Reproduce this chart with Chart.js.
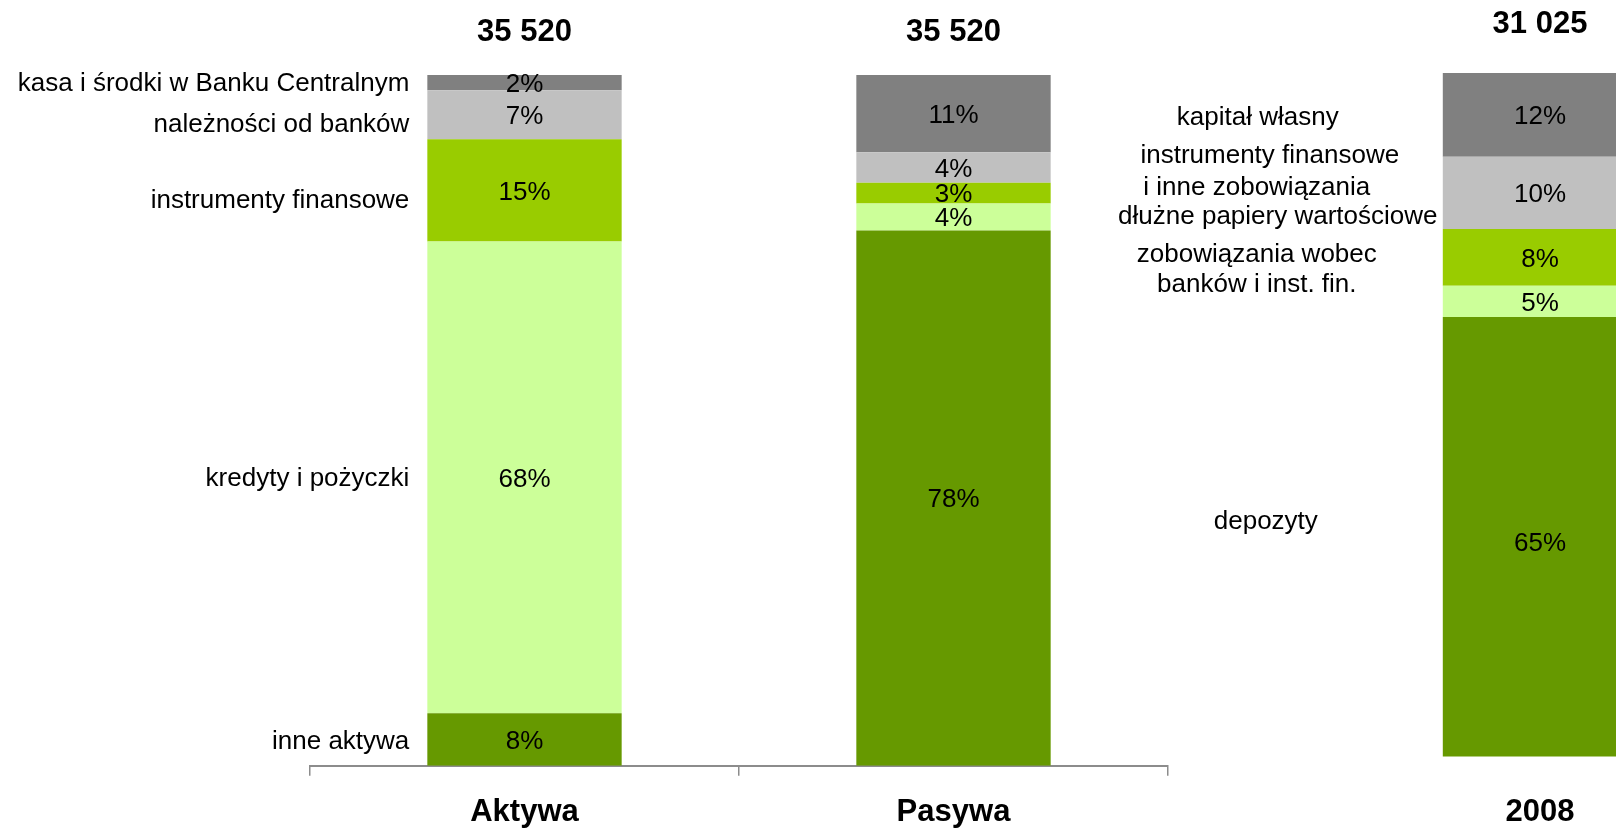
<!DOCTYPE html>
<html lang="pl">
<head>
  <meta charset="UTF-8" />
  <title>Struktura bilansu</title>
  <script src="https://cdn.jsdelivr.net/npm/chart.js"></script>
  <style>
    html, body {
      margin: 0;
      overflow: hidden;
      background: #ffffff;
    }
    body {
      position: relative;
      width: 1616px;
      height: 829px;
    }
    .box {
      position: absolute;
      left: 0;
      top: 0;
      height: 872px;
    }
    #main { width: 1616px; }
    #side { width: 1800px; }
  </style>
</head>
<body>
  <div class="box" id="main"><canvas id="balanceChart"></canvas></div>
  <div class="box" id="side"><canvas id="yearChart"></canvas></div>

  <script>
    // left chart: Aktywa / Pasywa, shares in % (bottom of stack first)
    const categories = ['Aktywa', 'Pasywa'];
    const totals = ['35 520', '35 520'];
    const tierBase = [7.6, 77.5];    // inne aktywa / depozyty
    const tierLight = [68.3, 3.9];   // kredyty i pożyczki / zobowiązania wobec banków
    const tierGreen = [14.8, 3.0];   // instrumenty finansowe / dłużne papiery
    const tierGrey = [7.1, 4.4];     // należności od banków / instrumenty fin. i inne zob.
    const tierTop = [2.2, 11.2];     // kasa i środki w BC / kapitał własny
    const assetNames = ['inne aktywa', 'kredyty i pożyczki', 'instrumenty finansowe',
                        'należności od banków', 'kasa i środki w Banku Centralnym'];

    // right chart: 2008 (bottom of stack first)
    const yearLabel = ['2008'];
    const yearTotal = ['31 025'];
    const year2008 = [64.8, 4.5, 8.2, 10.4, 12.1];

    const colors = ['#669900', '#CCFF99', '#99CC00', '#C0C0C0', '#808080'];
    const FONT = '"Liberation Sans", Arial, sans-serif';
    Chart.defaults.font.family = FONT;
    Chart.defaults.color = '#000';

    // percent labels, totals on top and the names beside the bars
    const segLabels = {
      id: 'segLabels',
      afterDatasetsDraw(chart, args, opts) {
        const ctx = chart.ctx;
        const sets = chart.data.datasets;
        ctx.save();
        ctx.fillStyle = '#000';
        ctx.textAlign = 'center';
        ctx.textBaseline = 'middle';
        ctx.font = '26px ' + FONT;
        sets.forEach((ds, i) => {
          chart.getDatasetMeta(i).data.forEach((bar, j) => {
            const p = bar.getProps(['x', 'y', 'base'], true);
            ctx.fillText(Math.round(ds.data[j]) + '%', p.x, (p.y + p.base) / 2 + 2);
          });
        });

        const topBars = chart.getDatasetMeta(sets.length - 1).data;
        ctx.font = 'bold 31px ' + FONT;
        ctx.textBaseline = 'alphabetic';
        opts.totals.forEach((t, j) => {
          const p = topBars[j].getProps(['x', 'y'], true);
          ctx.fillText(t, p.x, p.y - opts.totalGap);
        });

        ctx.font = '26px ' + FONT;
        ctx.textBaseline = 'middle';
        if (opts.names) {
          ctx.textAlign = 'right';
          opts.names.forEach((name, i) => {
            const p = chart.getDatasetMeta(i).data[0].getProps(['x', 'y', 'base', 'width'], true);
            ctx.fillText(name, p.x - p.width / 2 - 18, (p.y + p.base) / 2 + opts.nudge[i]);
          });
        }
        if (opts.lines) {
          ctx.textAlign = 'center';
          const p = chart.getDatasetMeta(0).data[0].getProps(['x', 'width'], true);
          const left = p.x - p.width / 2;
          opts.lines.forEach(l => {
            ctx.fillText(l.text, left + l.dx, chart.scales.y.getPixelForValue(l.at));
          });
        }
        ctx.restore();
      }
    };

    function makeSets(tiers) {
      return tiers.map((d, i) => ({
        data: d,
        backgroundColor: colors[i],
        borderWidth: 0
      }));
    }

    new Chart(document.getElementById('balanceChart'), {
      type: 'bar',
      data: {
        labels: categories,
        datasets: makeSets([tierBase, tierLight, tierGreen, tierGrey, tierTop])
      },
      options: {
        responsive: true,
        maintainAspectRatio: false,
        animation: false,
        layout: { padding: { left: 310, right: 448, top: 75, bottom: 23 } },
        datasets: { bar: { barPercentage: 0.453, categoryPercentage: 1 } },
        plugins: {
          legend: { display: false },
          tooltip: { enabled: false },
          segLabels: {
            totals: totals,
            totalGap: 34,
            names: assetNames,
            nudge: [2, 1, 10, 10, 1]
          }
        },
        scales: {
          x: {
            stacked: true,
            grid: { display: true, drawOnChartArea: false, tickLength: 10, color: '#8c8c8c', lineWidth: 1.5 },
            border: { display: true, color: '#8c8c8c', width: 2 },
            ticks: { padding: 18, color: '#000', font: { size: 31, weight: 'bold', lineHeight: 1.2 } }
          },
          y: { stacked: true, display: false, min: 0, max: 100 }
        }
      },
      plugins: [segLabels]
    });

    // the 2008 bar is cut off at the bottom of its plot, as in the original
    new Chart(document.getElementById('yearChart'), {
      type: 'bar',
      data: {
        labels: yearLabel,
        datasets: makeSets(year2008.map(v => [v]))
      },
      options: {
        responsive: true,
        maintainAspectRatio: false,
        animation: false,
        layout: { padding: { left: 1343, right: 63, top: 73, bottom: 3 } },
        datasets: { bar: { barPercentage: 0.4934, categoryPercentage: 1 } },
        plugins: {
          legend: { display: false },
          tooltip: { enabled: false },
          segLabels: {
            totals: yearTotal,
            totalGap: 40,
            lines: [
              { text: 'kapitał własny', at: 93.5, dx: -185 },
              { text: 'instrumenty finansowe', at: 88.0, dx: -173 },
              { text: 'i inne zobowiązania', at: 83.4, dx: -186 },
              { text: 'dłużne papiery wartościowe', at: 79.2, dx: -165 },
              { text: 'zobowiązania wobec', at: 73.8, dx: -186 },
              { text: 'banków i inst. fin.', at: 69.5, dx: -186 },
              { text: 'depozyty', at: 35.2, dx: -177 }
            ]
          }
        },
        scales: {
          x: {
            stacked: true,
            grid: { display: false, drawTicks: false },
            border: { display: false },
            ticks: { padding: 37.7, color: '#000', font: { size: 31, weight: 'bold', lineHeight: 1.2 } }
          },
          y: { stacked: true, display: false, min: 1.4, max: 100 }
        }
      },
      plugins: [segLabels]
    });
  </script>
</body>
</html>
